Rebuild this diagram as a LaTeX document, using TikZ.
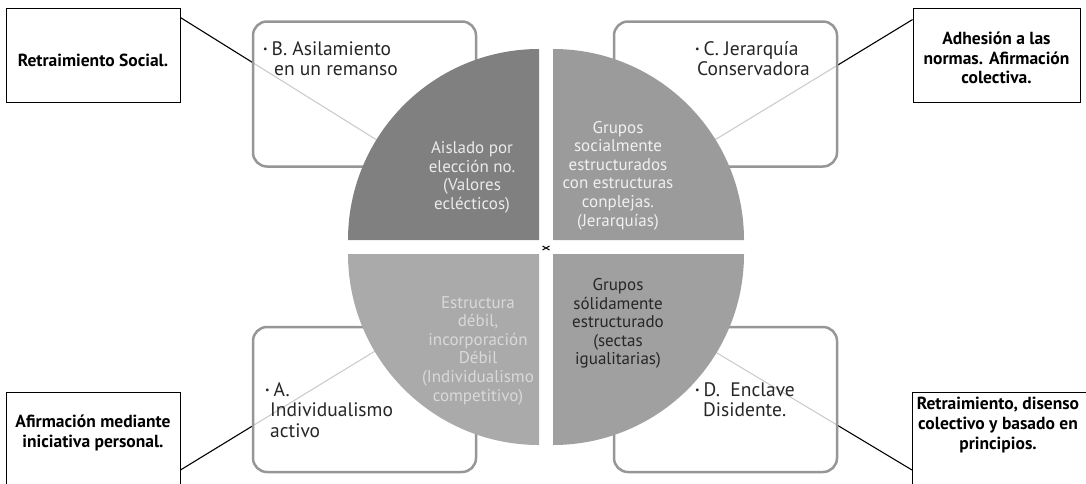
\documentclass[tikz,border=0pt]{standalone}
\usepackage{fontspec}
\setmainfont{PT Sans}
\usetikzlibrary{positioning, calc}
\definecolor{QuadTL}{RGB}{128,128,128}
\definecolor{QuadTR}{RGB}{155,155,155}
\definecolor{QuadBL}{RGB}{170,170,170}
\definecolor{QuadBR}{RGB}{160,160,160}
\definecolor{BoxGray}{RGB}{150,150,150}
\newcommand{\itemdot}{{\fontsize{10}{10}\selectfont\raisebox{2.5pt}{\textbullet}}\hspace{4pt}}
\tikzset{
    roundbox/.style={
        draw=BoxGray, line width=2.5pt, rounded corners=14pt, fill=white,
        fill opacity=0.8, minimum width=223pt, minimum height=145pt
    },
    notebox/.style={
        draw, line width=0.9pt, fill=white, minimum width=174pt, minimum height=94pt
    },
    notetext/.style={
        align=center, inner sep=0pt, font=\fontsize{17.5}{19.8}\selectfont\bfseries
    },
    itemtext/.style={
        align=left, inner sep=0pt, anchor=north west, text=black!85,
        font=\fontsize{19.5}{20.5}\selectfont
    },
    quadtext/.style={
        align=center, inner sep=0pt, font=\fontsize{17}{18.6}\selectfont
    },
    leader/.style={
        line width=1.1pt, black
    }
}
\begin{document}
\begin{tikzpicture}[x=1pt, y=-1pt]
\useasboundingbox (0,0) rectangle (1086,483);
% callout frames
\node[notebox] (social) at (93,55) {};
\node[notebox, minimum width=167pt] (norms) at (996.5,55) {};
\node[notebox, anchor=north, minimum height=110pt] (personal) at (93,392) {};
\node[notebox, anchor=north west, minimum width=180pt, minimum height=110pt] (dissent) at (912,392) {};
% points on the circle
\coordinate (tipB) at (380,142);
\coordinate (tipC) at (713,141);
\coordinate (tipA) at (380,348);
\coordinate (tipD) at (712,350);
% leaders
\draw[leader] ($(social.north east)+(0,10)$) -- (tipB);
\draw[leader] ($(norms.north west)+(0,12)$) -- (tipC);
\draw[leader] ($(personal.north east)+(0,78)$) -- (tipA);
\draw[leader] ($(dissent.north west)+(0,78)$) -- (tipD);
% rounded boxes
\node[roundbox] (boxB) at (364.5,94) {};
\node[roundbox] (boxC) at (725.5,94) {};
\node[roundbox] (boxA) at (364.5,399.5) {};
\node[roundbox] (boxD) at (725.5,399.5) {};
\node[itemtext] (itemB) at (263,41) {\itemdot B. Asilamiento\\\hspace*{11pt}en un remanso};
\node[itemtext] (itemC) at (695,41) {\itemdot C. Jerarquía\\\hspace*{2pt}Conservadora};
\node[itemtext] (itemA) at (265,382) {\itemdot A.\\\hspace*{5pt}Individualismo\\\hspace*{5pt}activo};
\node[itemtext] (itemD) at (695,382) {\itemdot D.\ \ Enclave\\\hspace*{8pt}Disidente.};
% quadrants
\fill[QuadTL] (539,240) -- ++(-191,0) arc[start angle=180, end angle=270, radius=191] -- cycle;
\fill[QuadTR] (553,240) -- ++(0,-191) arc[start angle=270, end angle=360, radius=191] -- cycle;
\fill[QuadBR] (553,254) -- ++(191,0) arc[start angle=0, end angle=90, radius=191] -- cycle;
\fill[QuadBL] (539,254) -- ++(0,191) arc[start angle=90, end angle=180, radius=191] -- cycle;
\draw[line width=1pt] (542.5,246) -- (549.5,250) (542.5,250) -- (549.5,246);
\node[quadtext, text=black!8] (isolated) at (472,177.5) {Aislado por\\elección no.\\(Valores\\eclécticos)};
\node[quadtext, text=black!6] (hierarchy) at (618,175.5) {Grupos\\socialmente\\estructurados\\con estructuras\\conplejas.\\(Jerarquías)};
\node[quadtext, text=black!15] (weak) at (478,350.5) {Estructura\\débil,\\incorporación\\Débil\\(Individualismo\\competitivo)};
\node[quadtext, text=black!85] (sects) at (618,323.5) {Grupos\\sólidamente\\estructurado\\(sectas\\igualitarias)};
% callout texts
\node[notetext] (social-t) at (93,60) {Retraimiento Social.};
\node[notetext] (norms-t) at (996.5,58) {Adhesión a las\\normas. Afirmación\\colectiva.};
\node[notetext] (personal-t) at (93,433) {Afirmación mediante\\iniciativa personal.};
\node[notetext] (dissent-t) at (998,425) {Retraimiento, disenso\\colectivo y basado en\\principios.};
\end{tikzpicture}
\end{document}
